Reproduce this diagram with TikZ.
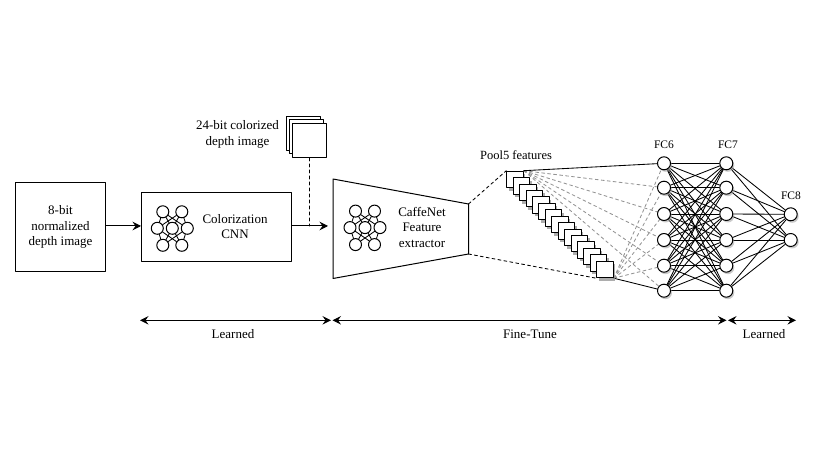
\documentclass[tikz,border=0pt]{standalone}
\usepackage{fontspec}
\setmainfont{Liberation Serif}
\usetikzlibrary{arrows.meta}
\usetikzlibrary{shadows}
\usetikzlibrary{backgrounds}
\tikzset{
  lbl/.style={align=center,inner sep=0pt,font=\fontsize{13}{15.5}\selectfont},
  smalllbl/.style={inner sep=0pt,font=\fontsize{11.5}{14}\selectfont},
  box/.style={draw,inner sep=0pt,anchor=north west},
  neuron/.style={draw,circle,fill=white,inner sep=0pt,minimum size=12pt},
  fcnode/.style={neuron,minimum size=13pt,drop shadow={shadow xshift=1.5pt,shadow yshift=-2pt,fill=gray!70,opacity=0.6}},
  featbox/.style={box,fill=white,minimum size=16.5pt,drop shadow={shadow xshift=2pt,shadow yshift=-3pt,fill=gray!80,opacity=0.8}},
  graydash/.style={gray!85,dash pattern=on 3pt off 3pt},
  blackdash/.style={dash pattern=on 3pt off 3pt},
  wires/.style={on background layer={line width=0.85pt,line cap=round}},
}
\newcommand{\smallnet}[3]{
  \node[neuron] (#1a) at (#2-9.5,#3-16.5) {};
  \node[neuron] (#1b) at (#2+9.5,#3-16.5) {};
  \node[neuron] (#1c) at (#2-15,#3) {};
  \node[neuron] (#1e) at (#2,#3) {};
  \node[neuron] (#1d) at (#2+15,#3) {};
  \node[neuron] (#1f) at (#2-9.5,#3+17) {};
  \node[neuron] (#1g) at (#2+9.5,#3+17) {};
  \begin{scope}[wires]
  \foreach \m in {c,e,d}{
    \foreach \t in {a,b,f,g} \draw (#1\t) -- (#1\m);
  }
  \end{scope}
}
\begin{document}
\begin{tikzpicture}[line cap=round,line join=round,>={Stealth[length=8.5pt,width=8.5pt,inset=3pt]},x=1pt,y=-1pt,line width=1pt]
\useasboundingbox (0,0) rectangle (820,462);
\node[box,minimum width=90pt,minimum height=89pt,lbl] (depth) at (15,182) {8-bit\\normalized\\depth image};
\node[box,minimum width=150pt,minimum height=69pt] (color) at (141,192) {};
\node[lbl] (colortxt) at (235,226.5) {Colorization\\CNN};
\coordinate (extin) at (328,226);
\coordinate (extmid) at (309.5,226);
\coordinate (exttl) at (333,179);
\coordinate (exttr) at (468.5,204);
\coordinate (extbr) at (468.5,254);
\coordinate (extbl) at (333,278.5);
\draw (exttl) -- (exttr) -- (extbr) -- (extbl) -- cycle;
\node[lbl] (exttxt) at (422,227) {CaffeNet\\Feature\\extractor};
\draw[->] (depth.east |- extin) -- (color.west |- extin);
\draw[->] (color.east |- extin) -- (extin);
\node[box,fill=white,minimum size=34pt] (rgbc) at (286,116) {};
\node[box,fill=white,minimum size=34pt] (rgbb) at (289,119.5) {};
\node[box,fill=white,minimum size=34pt] (rgba) at (292,123) {};
\node[lbl] (rgbtxt) at (237.5,134.5) {24-bit colorized\\depth image};
\draw[blackdash] (extmid |- rgba.south) -- (extmid);
\smallnet{cnet}{172.3}{228.3}
\smallnet{fnet}{365}{227.6}
\foreach \i/\y in {1/163.3,2/187.7,3/214,4/240,5/265.7,6/290.7}{
  \node[fcnode] (fca\i) at (664,\y) {};
  \node[fcnode] (fcb\i) at (726.3,\y) {};
}
\node[fcnode] (fcc1) at (790.7,214.3) {};
\node[fcnode] (fcc2) at (790.7,240) {};
\foreach \i in {1,...,15}{
  \pgfmathsetmacro{\px}{506.3+(\i-1)*6.43}
  \pgfmathsetmacro{\py}{170.7+(\i-1)*6.43}
  \node[featbox] (feat\i) at (\px,\py) {};
}
\begin{scope}[wires]
\foreach \i in {2,...,6} \draw[graydash] (feat1.north east) -- (fca\i);
\foreach \i in {1,...,5} \draw[graydash] (feat15.south east) -- (fca\i);
\draw (feat1.north east) -- (fca1);
\draw (feat15.south east) -- (fca6);
\draw[blackdash] (exttr) -- (feat1.north west);
\draw[blackdash] (extbr) -- (feat15.south west);
\foreach \i in {1,...,6}{
  \foreach \j in {1,...,6} \draw (fca\i) -- (fcb\j);
  \foreach \j in {1,2} \draw (fcb\i) -- (fcc\j);
}
\end{scope}
\node[inner sep=0pt,font=\fontsize{12.5}{14}\selectfont] (pooltxt) at (516,155) {Pool5 features};
\node[smalllbl] (fc6txt) at (664,145) {FC6};
\node[smalllbl] (fc7txt) at (728,145) {FC7};
\node[smalllbl] (fc8txt) at (791,196) {FC8};
\coordinate (spana) at (140,320.3);
\coordinate (spanb) at (331,320.3);
\coordinate (spanc) at (332.5,320.3);
\coordinate (spand) at (726.5,320.3);
\coordinate (spane) at (728,320.3);
\coordinate (spanf) at (796,320.3);
\draw[<->] (spana) -- (spanb);
\draw[<->] (spanc) -- (spand);
\draw[<->] (spane) -- (spanf);
\node[lbl] (learna) at (233,334) {Learned};
\node[lbl] (fine) at (530,334) {Fine-Tune};
\node[lbl] (learnb) at (764,334) {Learned};
\end{tikzpicture}
\end{document}
